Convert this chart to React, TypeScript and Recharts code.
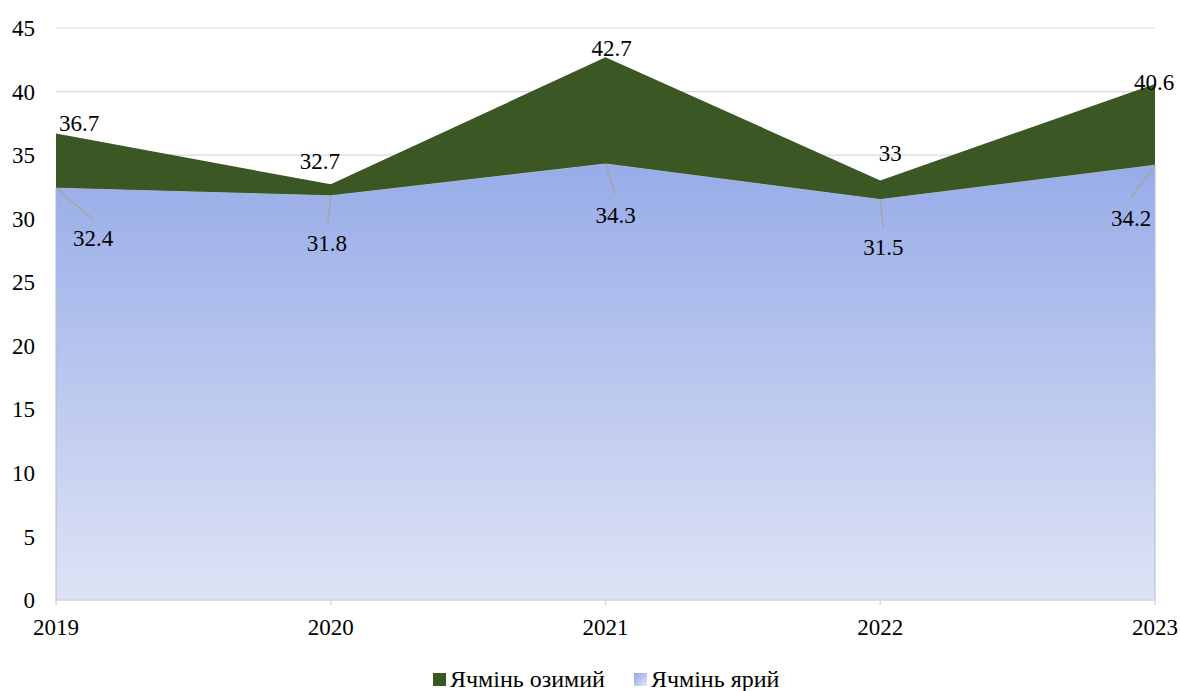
import React from 'react';
import {
  AreaChart,
  Area,
  XAxis,
  YAxis,
  CartesianGrid,
  Legend,
  LabelList,
  ReferenceLine,
} from 'recharts';

// Barley yield by year
const years = ['2019', '2020', '2021', '2022', '2023'];
const winterBarley = [36.7, 32.7, 42.7, 33, 40.6];
const springBarley = [32.4, 31.8, 34.3, 31.5, 34.2];
const yTicks = [0, 5, 10, 15, 20, 25, 30, 35, 40, 45];
const winterName = 'Ячмінь озимий';
const springName = 'Ячмінь ярий';

const data = years.map((year, i) => ({
  year,
  winter: winterBarley[i],
  spring: springBarley[i],
}));

const FONT = 'Liberation Serif';
const FS = 23;
const LEGEND_FS = 24;
const WINTER_COLOR = '#3A5724';
const SPRING_TOP = '#97ACE8';
const SPRING_BOTTOM = '#DEE3F5';

// label centre offsets relative to each data point
const winterOffsets: [number, number][] = [
  [23, -10.5],
  [-11, -23],
  [6, -9],
  [10, -27],
  [-1, -1.5],
];
const springOffsets: [number, number][] = [
  [37, 50],
  [-4, 47.5],
  [10, 51],
  [3, 48],
  [-24, 53],
];
// leader line end points relative to each data point
const springLeaders: [number, number][] = [
  [37, 31],
  [-3, 27],
  [10, 30],
  [3, 28],
  [-24, 32],
];

function makeLabel(offsets: [number, number][], leaders?: [number, number][]) {
  return (props: any) => {
    const vb = props.viewBox || {};
    const px = vb.x ?? props.x;
    const py = vb.y ?? props.y;
    const i = props.index ?? 0;
    const [dx, dy] = offsets[i];
    return (
      <g>
        {leaders && (
          <line
            x1={px}
            y1={py}
            x2={px + leaders[i][0]}
            y2={py + leaders[i][1]}
            stroke="#a6a6a6"
            strokeWidth={1.5}
          />
        )}
        <text
          x={px + dx}
          y={py + dy}
          dy="0.34em"
          textAnchor="middle"
          fontFamily={FONT}
          fontSize={FS}
          fill="#000"
        >
          {props.value}
        </text>
      </g>
    );
  };
}

const legendItems = [
  { name: winterName, background: WINTER_COLOR },
  { name: springName, background: `linear-gradient(135deg, #8FA6E6, #E2E7F8)` },
];

function LegendContent() {
  return (
    <div
      style={{
        display: 'flex',
        alignItems: 'center',
        paddingLeft: 433,
        fontFamily: FONT,
        fontSize: LEGEND_FS,
        lineHeight: '26px',
        color: '#000',
      }}
    >
      {legendItems.map((item, i) => (
        <div
          key={item.name}
          style={{ display: 'flex', alignItems: 'center', marginRight: i === 0 ? 29 : 0 }}
        >
          <span
            style={{
              display: 'inline-block',
              width: 13,
              height: 13,
              background: item.background,
              marginRight: 4,
            }}
          />
          <span>{item.name}</span>
        </div>
      ))}
    </div>
  );
}

export default function App() {
  return (
    <div
      style={{
        position: 'absolute',
        left: 0,
        top: 0,
        width: 1180,
        height: 691,
        background: '#fff',
        fontFamily: FONT,
      }}
    >
      <AreaChart
        width={1180}
        height={691}
        data={data}
        margin={{ top: 28, right: 25, left: 10, bottom: 31 }}
      >
        <defs>
          <linearGradient id="springFill" x1="0" y1="0" x2="0" y2="1">
            <stop offset="0%" stopColor={SPRING_TOP} />
            <stop offset="100%" stopColor={SPRING_BOTTOM} />
          </linearGradient>
        </defs>
        <CartesianGrid vertical={false} stroke="#d9d9d9" strokeWidth={1.2} />
        <XAxis
          dataKey="year"
          interval={0}
          height={60}
          tickSize={5}
          tickMargin={14}
          axisLine={{ stroke: '#d9d9d9', strokeWidth: 1.5 }}
          tickLine={{ stroke: '#d9d9d9', strokeWidth: 1.5 }}
          tick={{ fill: '#000', fontSize: FS, fontFamily: FONT }}
        />
        <YAxis
          width={46}
          domain={[0, 45]}
          ticks={yTicks}
          interval={0}
          axisLine={false}
          tickLine={false}
          tickSize={0}
          tickMargin={21}
          tick={{ fill: '#000', fontSize: FS, fontFamily: FONT }}
        />
        <Legend
          layout="horizontal"
          verticalAlign="middle"
          align="center"
          content={<LegendContent />}
          wrapperStyle={{ left: 0, top: 666, width: 1180, height: 26 }}
        />
        <Area
          type="linear"
          dataKey="winter"
          name={winterName}
          stroke="none"
          fill={WINTER_COLOR}
          fillOpacity={1}
          isAnimationActive={false}
          activeDot={false}
        >
          <LabelList dataKey="winter" content={makeLabel(winterOffsets)} />
        </Area>
        <Area
          type="linear"
          dataKey="spring"
          name={springName}
          stroke="#a9b8dc"
          strokeWidth={1}
          fill="url(#springFill)"
          fillOpacity={1}
          isAnimationActive={false}
          activeDot={false}
        >
          <LabelList dataKey="spring" content={makeLabel(springOffsets, springLeaders)} />
        </Area>
        <ReferenceLine
          segment={[
            { x: years[0], y: 0 },
            { x: years[0], y: springBarley[0] },
          ]}
          stroke="#aebbd9"
          strokeWidth={1}
        />
        <ReferenceLine
          segment={[
            { x: years[years.length - 1], y: 0 },
            { x: years[years.length - 1], y: springBarley[springBarley.length - 1] },
          ]}
          stroke="#aebbd9"
          strokeWidth={1}
        />
      </AreaChart>
    </div>
  );
}
